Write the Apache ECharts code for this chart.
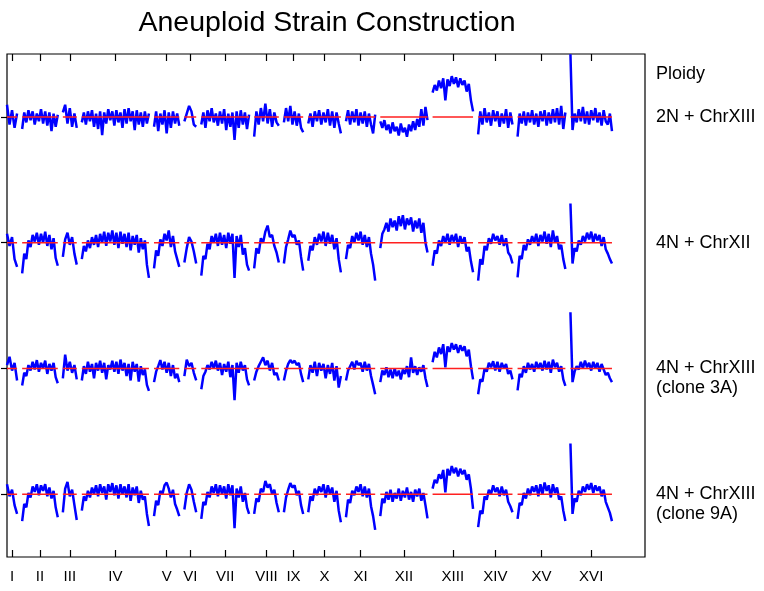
<!DOCTYPE html>
<html>
<head>
<meta charset="utf-8">
<script src="https://cdn.jsdelivr.net/npm/echarts@6/dist/echarts.min.js"></script>
<style>
  html, body { margin: 0; padding: 0; background: #fff; }
  #chart { width: 764px; height: 591px; }
</style>
</head>
<body>
<div id="chart"></div>
<script>
// yeast chromosomes, lengths in kb
const chromNames = ['I', 'II', 'III', 'IV', 'V', 'VI', 'VII', 'VIII', 'IX', 'X', 'XI', 'XII', 'XIII', 'XIV', 'XV', 'XVI']
const chromLengths = [230, 813, 317, 1532, 577, 270, 1091, 563, 440, 745, 667, 1078, 924, 784, 1091, 948]
const chromGap = 116

const trackNames = ['2N + ChrXIII', '4N + ChrXII', '4N + ChrXIII\n(clone 3A)', '4N + ChrXIII\n(clone 9A)']

// log2 ratio x 100, one array per chromosome (I..XVI)
const strain2N_XIII = [
  [22, -14, 12, -20, 6],
  [-22, 8, -10, 12, -6, 10, -14, 6, -8, 14, -12, 10, -16, 8, -26, 6, -18, 4],
  [8, 22, -12, 16, -18, 6, -20],
  [-10, 8, -14, 10, -8, 12, -18, 6, -22, 10, -33, 8, -12, 14, -6, 10, -16, 12, -10, 8, -20, 14, -12, 16, -8, 10, -24, 12, -14, 8, -18, 10, -12, 6],
  [-18, 10, -26, 6, -14, 12, -30, 8, -20, 10, -12, 6, -16],
  [-8, 6, 20, 10, -14, -18],
  [-14, 8, -20, 12, -8, 16, -10, 6, -16, 10, -12, 14, -24, 6, -18, 8, -42, 10, -20, 12, -14, 8, -22, 4],
  [-36, 10, -14, 16, -8, 24, -12, 14, -18, 8, -10, -16],
  [-10, 16, -8, 20, -14, 10, -16, 6, -20, -28],
  [-12, 6, -18, 10, -8, 12, -14, 8, -10, 14, -16, 10, -20, 8, -12, -30],
  [-8, 12, -14, 10, -10, 14, -16, 8, -12, 10, -18, 6, -14, -30, 4],
  [-8, -20, -6, -24, -14, -30, -10, -26, -18, -34, -12, -28, -20, -36, -14, -26, -8, -24, -4, -18, 14, -16, 18, -6],
  [44, 58, 48, 66, 52, 70, 30, 68, 56, 74, 60, 72, 54, 70, 58, 66, 46, 60, 30, 10],
  [-32, 10, -14, 16, -10, 8, -16, 12, -8, 10, -18, 6, -12, 14, -20, 8, -14],
  [-36, 6, -12, 10, -16, 8, -10, 12, -14, 6, -18, 10, -8, 12, -16, 8, -12, 14, -10, 16, -14, 20, -22, 8],
  [114, -24, 6, -10, 14, -8, 18, -12, 10, -14, 12, -6, 16, -10, 8, -16, 12, -8, -14, 6, -26]
]

const strain4N_XII = [
  [16, -6, 10, -30, -44],
  [-56, -20, -30, 4, -8, 14, 2, 18, -4, 16, 0, 20, -6, 14, -12, 8, -28, -42],
  [-26, 6, 18, -4, 10, -20, -40],
  [-30, -6, -16, 4, -10, 10, -4, 14, -8, 16, 0, 20, -6, 18, 2, 22, -4, 18, -10, 20, -2, 16, -8, 18, -14, 12, -4, 14, -18, 8, -12, 4, -40, -64],
  [-47, -14, -24, 6, -6, 16, 4, 22, -8, 12, -16, -30, -44],
  [-36, -10, 10, 2, -16, -38],
  [-60, -24, -30, -2, -12, 12, 0, 16, -6, 18, -4, 14, -10, 18, -2, 16, -64, 12, -8, 14, -22, -10, -40, -51],
  [-47, -10, -20, 8, 0, 20, 31, 10, 14, -6, -18, -36],
  [-38, -8, 6, 22, 10, 14, -4, 4, -26, -51],
  [-33, -6, -14, 10, -4, 16, 2, 20, -6, 18, -2, 14, -12, 8, -30, -54],
  [-30, -4, -10, 12, 0, 18, 4, 20, -4, 14, -8, 10, -20, -40, -69],
  [-10, 16, 24, 36, 20, 44, 28, 40, 22, 48, 30, 50, 24, 44, 32, 46, 20, 40, 26, 44, 18, 36, 0, -18],
  [-42, -14, -20, 4, -6, 12, 0, 16, -4, 14, 2, 16, -8, 12, -2, 10, -16, -8, -34, -54],
  [-69, -30, -40, -6, -14, 8, -2, 16, 4, 12, -4, 14, -6, 8, -18, -24, -38],
  [-63, -24, -30, -4, -14, 6, -4, 12, 0, 16, -6, 14, 2, 20, -2, 16, -8, 22, 0, 12, -12, -4, -30, -48],
  [71, -38, -10, -16, 4, -4, 12, 2, 18, 6, 20, 0, 16, 4, 14, -6, 10, -12, -20, -30, -38]
]

const strain4N_XIII_3A = [
  [6, 21, -4, 10, -22],
  [-31, -8, -14, 6, -4, 12, -2, 15, -6, 10, 0, 14, -10, 8, -4, 10, -16, -27],
  [-18, 25, -4, 12, -8, 6, -20],
  [-22, 4, -10, 12, -6, 8, -18, 10, -4, 14, -8, 10, -20, 6, -2, 14, -6, 12, -10, 16, -4, 10, -14, 8, -22, 12, -6, 8, -24, 4, -12, -2, -30, -41],
  [-25, -6, 4, 15, -2, 12, -8, 10, -14, 6, -18, -10, -25],
  [-14, 16, 4, 10, -8, -22],
  [-38, -14, -6, 6, -2, 12, 0, 14, -4, 10, -12, 8, -6, 12, -16, 6, -58, 10, -8, 12, -4, 6, -20, -31],
  [-22, -6, 4, 12, 20, 6, 14, -4, 10, -12, -8, -22],
  [-22, -4, 8, 15, 10, 14, 6, 10, -10, -25],
  [-20, 6, -8, 12, -14, 10, -4, 8, -18, 6, -10, 10, -22, 4, -35, -14],
  [-22, -4, 4, 12, -2, 14, 6, 10, -6, 12, -4, 8, -14, -30, -47],
  [-25, -4, -12, 2, -16, -2, -18, 0, -14, -4, -20, -2, -10, 4, -16, 20, -8, 4, -12, 2, -6, 6, -18, -34],
  [11, 30, 20, 38, 26, 44, 2, 40, 30, 46, 34, 44, 28, 42, 32, 40, 22, 34, 4, -20],
  [-47, -20, -24, 0, -6, 10, 2, 13, -4, 12, -6, 10, 0, 8, -10, -4, -20],
  [-40, -10, -16, 4, -8, 10, -2, 8, -6, 12, 0, 10, -4, 14, -2, 12, -8, 16, 2, 10, -6, 4, -20, -32],
  [102, -25, -6, 4, -2, 12, 0, 14, 2, 10, -4, 12, 0, 10, -6, 8, -2, -12, -8, -18, -25]
]

const strain4N_XIII_9A = [
  [18, -4, 8, -20, -36],
  [-49, -18, -24, 2, -6, 14, 4, 18, -2, 16, 6, 18, -4, 12, -8, 6, -24, -42],
  [-33, 10, 22, -4, 8, -20, -47],
  [-30, -4, -12, 6, -6, 12, 0, 16, -4, 18, 2, 14, -10, 18, 4, 20, -2, 16, -8, 18, 0, 14, -6, 18, -12, 12, -2, 14, -16, 6, -10, -4, -36, -58],
  [-40, -12, -20, 6, 0, 16, 21, 10, -6, 8, -18, -28, -40],
  [-28, 2, 18, 8, -14, -33],
  [-45, -14, -20, 4, -6, 14, 2, 18, -4, 16, 0, 14, -8, 18, -2, 16, -62, 10, -6, 14, -14, 2, -24, -36],
  [-36, -8, -14, 10, 4, 24, 12, 18, 0, 8, -16, -33],
  [-33, -6, 8, 20, 12, 16, -2, 6, -20, -36],
  [-33, -4, -12, 10, -2, 14, 4, 18, -6, 16, 0, 12, -14, 6, -30, -51],
  [-42, -10, -16, 6, -2, 14, 4, 18, -4, 14, -6, 10, -22, -40, -65],
  [-40, -8, -16, 4, -10, 8, -14, 2, -8, 10, -12, 6, -6, 12, -10, 4, -14, 8, -4, 10, -12, 2, -20, -44],
  [10, 26, 20, 36, 28, 44, 3, 46, 34, 51, 38, 48, 32, 46, 36, 44, 26, 36, 10, -27],
  [-60, -30, -36, -4, -10, 8, 0, 16, 4, 12, -4, 14, -2, 8, -14, -22, -33],
  [-45, -16, -20, 2, -8, 10, -2, 14, 4, 16, -4, 18, 0, 21, 6, 16, -6, 18, 2, 12, -10, -4, -30, -49],
  [92, -36, -8, -14, 6, -2, 14, 4, 18, 8, 20, 2, 16, 6, 14, -4, 8, -14, -24, -34, -49]
]

const tracks = [strain2N_XIII, strain4N_XII, strain4N_XIII_3A, strain4N_XIII_9A]

// chromosome positions along the genome axis
const chromStart = []
let pos = 0
chromLengths.forEach(len => {
  chromStart.push(pos)
  pos += len + chromGap
})
const chromCenter = chromStart.map((s, i) => s + chromLengths[i] / 2)
const xMax = 14564
const yHalf = 1.143   // log2 units above/below each baseline
const ploidyLabelAt = 0.78
const baselineTicks = tracks.map((t, k) => tracks.length - k - 0.5)

const FONT = '"Liberation Sans", Arial, Helvetica, sans-serif'
const plotTop = 54
const trackH = 125.75

const chart = echarts.init(document.getElementById('chart'))

const tickStyle = { color: '#000', width: 1.2 }
const grid = [{ left: 7, right: 119, top: plotTop, bottom: 34, show: true, borderColor: '#000', borderWidth: 1.2 }]
const xAxis = [
  {
    gridIndex: 0, type: 'value', min: 0, max: xMax, position: 'bottom',
    axisLine: { show: false }, splitLine: { show: false },
    axisTick: { show: true, inside: true, length: 7, customValues: chromCenter, lineStyle: tickStyle },
    axisLabel: {
      customValues: chromCenter, margin: 12, color: '#000', fontSize: 15, fontFamily: FONT,
      formatter: v => {
        const i = chromCenter.findIndex(c => Math.abs(c - v) < 1)
        return i >= 0 ? chromNames[i] : ''
      }
    }
  },
  {
    gridIndex: 0, type: 'value', min: 0, max: xMax, position: 'top',
    axisLine: { show: false }, splitLine: { show: false },
    axisTick: { show: true, inside: true, length: 7, customValues: chromCenter, lineStyle: tickStyle },
    axisLabel: { show: false }
  }
]
// frame axis on the right carries the baseline ticks
const yAxis = [{
  gridIndex: 0, type: 'value', min: 0, max: tracks.length, position: 'right',
  axisLine: { show: false }, splitLine: { show: false },
  axisTick: { show: true, inside: true, length: 6, customValues: baselineTicks, lineStyle: tickStyle },
  axisLabel: { show: false }
}]
const series = []

tracks.forEach((track, k) => {
  const gi = k + 1
  grid.push({ left: 7, right: 119, top: plotTop + trackH * k, height: trackH })
  xAxis.push({ gridIndex: gi, type: 'value', min: 0, max: xMax, show: false })
  const labelValues = k === 0 ? [0, ploidyLabelAt] : [0]
  yAxis.push({
    gridIndex: gi, type: 'value', min: -yHalf, max: yHalf, position: 'right',
    axisLine: { show: false }, splitLine: { show: false }, axisTick: { show: false },
    axisLabel: {
      customValues: labelValues, margin: 11, color: '#000', fontSize: 18, fontFamily: FONT,
      lineHeight: 20, align: 'left',
      formatter: v => {
        if (v !== 0) return 'Ploidy'
        const name = trackNames[k]
        return name.indexOf('\n') >= 0 ? ' \n' + name : name
      }
    }
  })

  const pts = []
  const ref = []
  track.forEach((vals, c) => {
    const s = chromStart[c]
    const len = chromLengths[c]
    vals.forEach((v, i) => {
      pts.push([s + len * i / (vals.length - 1), v / 100])
    })
    pts.push([s + len + chromGap / 2, '-'])
    ref.push([s, 0], [s + len, 0], [s + len + chromGap / 2, '-'])
  })

  // xAxis 0/1 belong to the frame grid, so track axes start at 2
  series.push({
    type: 'line', xAxisIndex: k + 2, yAxisIndex: gi, data: pts,
    symbol: 'none', connectNulls: false,
    lineStyle: { color: '#0000ff', width: 2.5 }, z: 2
  })
  series.push({
    type: 'line', xAxisIndex: k + 2, yAxisIndex: gi, data: ref,
    symbol: 'none', connectNulls: false,
    lineStyle: { color: '#ff2020', width: 1.5 }, z: 3
  })
})

chart.setOption({
  animation: false,
  backgroundColor: '#fff',
  title: {
    text: 'Aneuploid Strain Construction',
    left: 322, top: 4, textAlign: 'center',
    textStyle: { fontSize: 28.5, fontWeight: 'normal', color: '#000', fontFamily: FONT }
  },
  grid: grid,
  xAxis: xAxis,
  yAxis: yAxis,
  series: series
})
</script>
</body>
</html>
